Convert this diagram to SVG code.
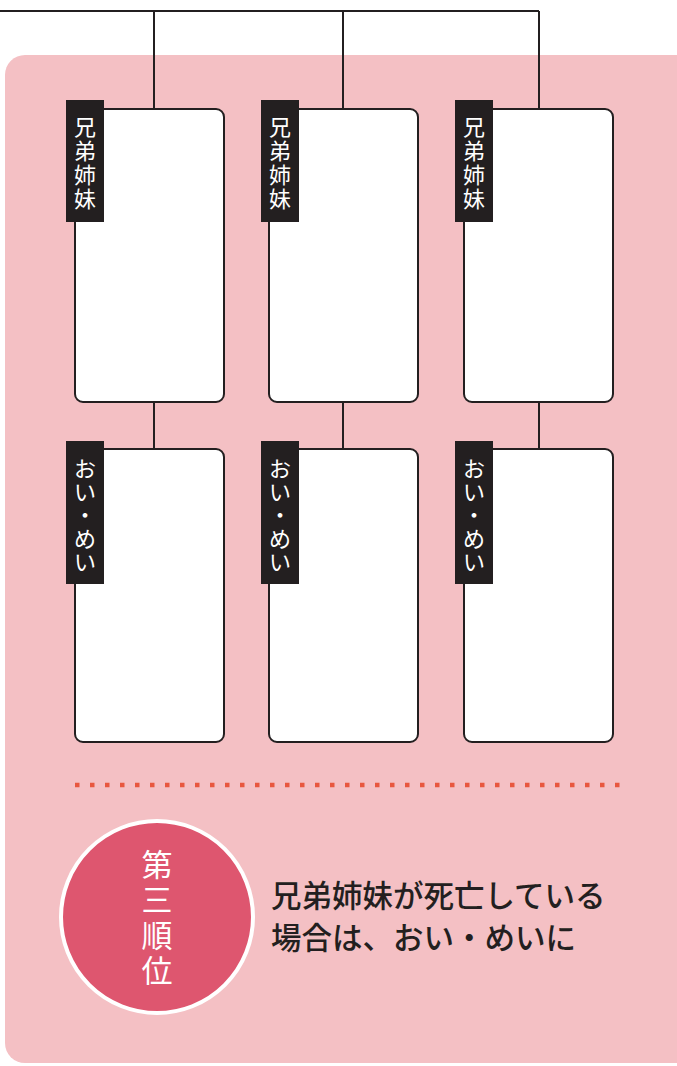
<svg xmlns="http://www.w3.org/2000/svg" width="677" height="1066" viewBox="0 0 677 1066">
<style>
.bg{fill:#f4c0c4}
.box{fill:#ffffff;stroke:#231f20;stroke-width:2}
.tab{fill:#231f20}
.tt{fill:#ffffff;font-family:"Noto Sans CJK JP","Noto Sans CJK SC",sans-serif;font-size:22px;text-anchor:middle;dominant-baseline:central}
.ln{stroke:#231f20;stroke-width:2;fill:none}
.ct{fill:#ffffff;font-family:"Noto Sans CJK JP",sans-serif;font-size:31px;text-anchor:middle;dominant-baseline:central}
.mt{fill:#231f20;font-family:"Noto Sans CJK JP",sans-serif;font-size:30.5px;font-weight:500}
</style>
<rect class="bg" x="5" y="55" width="700" height="1008" rx="20"/>
<g id="connectors">
<path class="ln" d="M0 11H539M154 11V109M343 11V109M539 11V109M154 402V449M343 402V449M539 402V449"/>
</g>
<g id="sib1"><rect class="box" x="75" y="109" width="149" height="293" rx="8"/><rect class="tab" x="66" y="100" width="38" height="122"/>
<text class="tt"><tspan x="85" y="125">兄</tspan><tspan x="85" y="149">弟</tspan><tspan x="85" y="173">姉</tspan><tspan x="85" y="197">妹</tspan></text></g>
<g id="sib2"><rect class="box" x="269" y="109" width="149" height="293" rx="8"/><rect class="tab" x="261" y="100" width="38" height="122"/>
<text class="tt"><tspan x="280" y="125">兄</tspan><tspan x="280" y="149">弟</tspan><tspan x="280" y="173">姉</tspan><tspan x="280" y="197">妹</tspan></text></g>
<g id="sib3"><rect class="box" x="464" y="109" width="149" height="293" rx="8"/><rect class="tab" x="455" y="100" width="38" height="122"/>
<text class="tt"><tspan x="474" y="125">兄</tspan><tspan x="474" y="149">弟</tspan><tspan x="474" y="173">姉</tspan><tspan x="474" y="197">妹</tspan></text></g>
<g id="neph1"><rect class="box" x="75" y="449" width="149" height="293" rx="8"/><rect class="tab" x="66" y="441" width="38" height="143"/>
<text class="tt"><tspan x="85" y="467">お</tspan><tspan x="85" y="490">い</tspan><tspan x="85" y="513">・</tspan><tspan x="85" y="537">め</tspan><tspan x="85" y="560">い</tspan></text></g>
<g id="neph2"><rect class="box" x="269" y="449" width="149" height="293" rx="8"/><rect class="tab" x="261" y="441" width="38" height="143"/>
<text class="tt"><tspan x="280" y="467">お</tspan><tspan x="280" y="490">い</tspan><tspan x="280" y="513">・</tspan><tspan x="280" y="537">め</tspan><tspan x="280" y="560">い</tspan></text></g>
<g id="neph3"><rect class="box" x="464" y="449" width="149" height="293" rx="8"/><rect class="tab" x="455" y="441" width="38" height="143"/>
<text class="tt"><tspan x="474" y="467">お</tspan><tspan x="474" y="490">い</tspan><tspan x="474" y="513">・</tspan><tspan x="474" y="537">め</tspan><tspan x="474" y="560">い</tspan></text></g>
<line x1="75" y1="785" x2="620" y2="785" stroke="#e8573f" stroke-width="4.5" stroke-dasharray="4.5 10.5"/>
<g id="rank"><circle cx="157" cy="917" r="96" fill="#de566f" stroke="#ffffff" stroke-width="4"/>
<text class="ct"><tspan x="157" y="862">第</tspan><tspan x="157" y="897">三</tspan><tspan x="157" y="933">順</tspan><tspan x="157" y="968">位</tspan></text></g>
<g id="desc"><text class="mt"><tspan x="271" y="907">兄弟姉妹が死亡している</tspan><tspan x="271" y="949">場合は、おい・めいに</tspan></text></g>
</svg>
